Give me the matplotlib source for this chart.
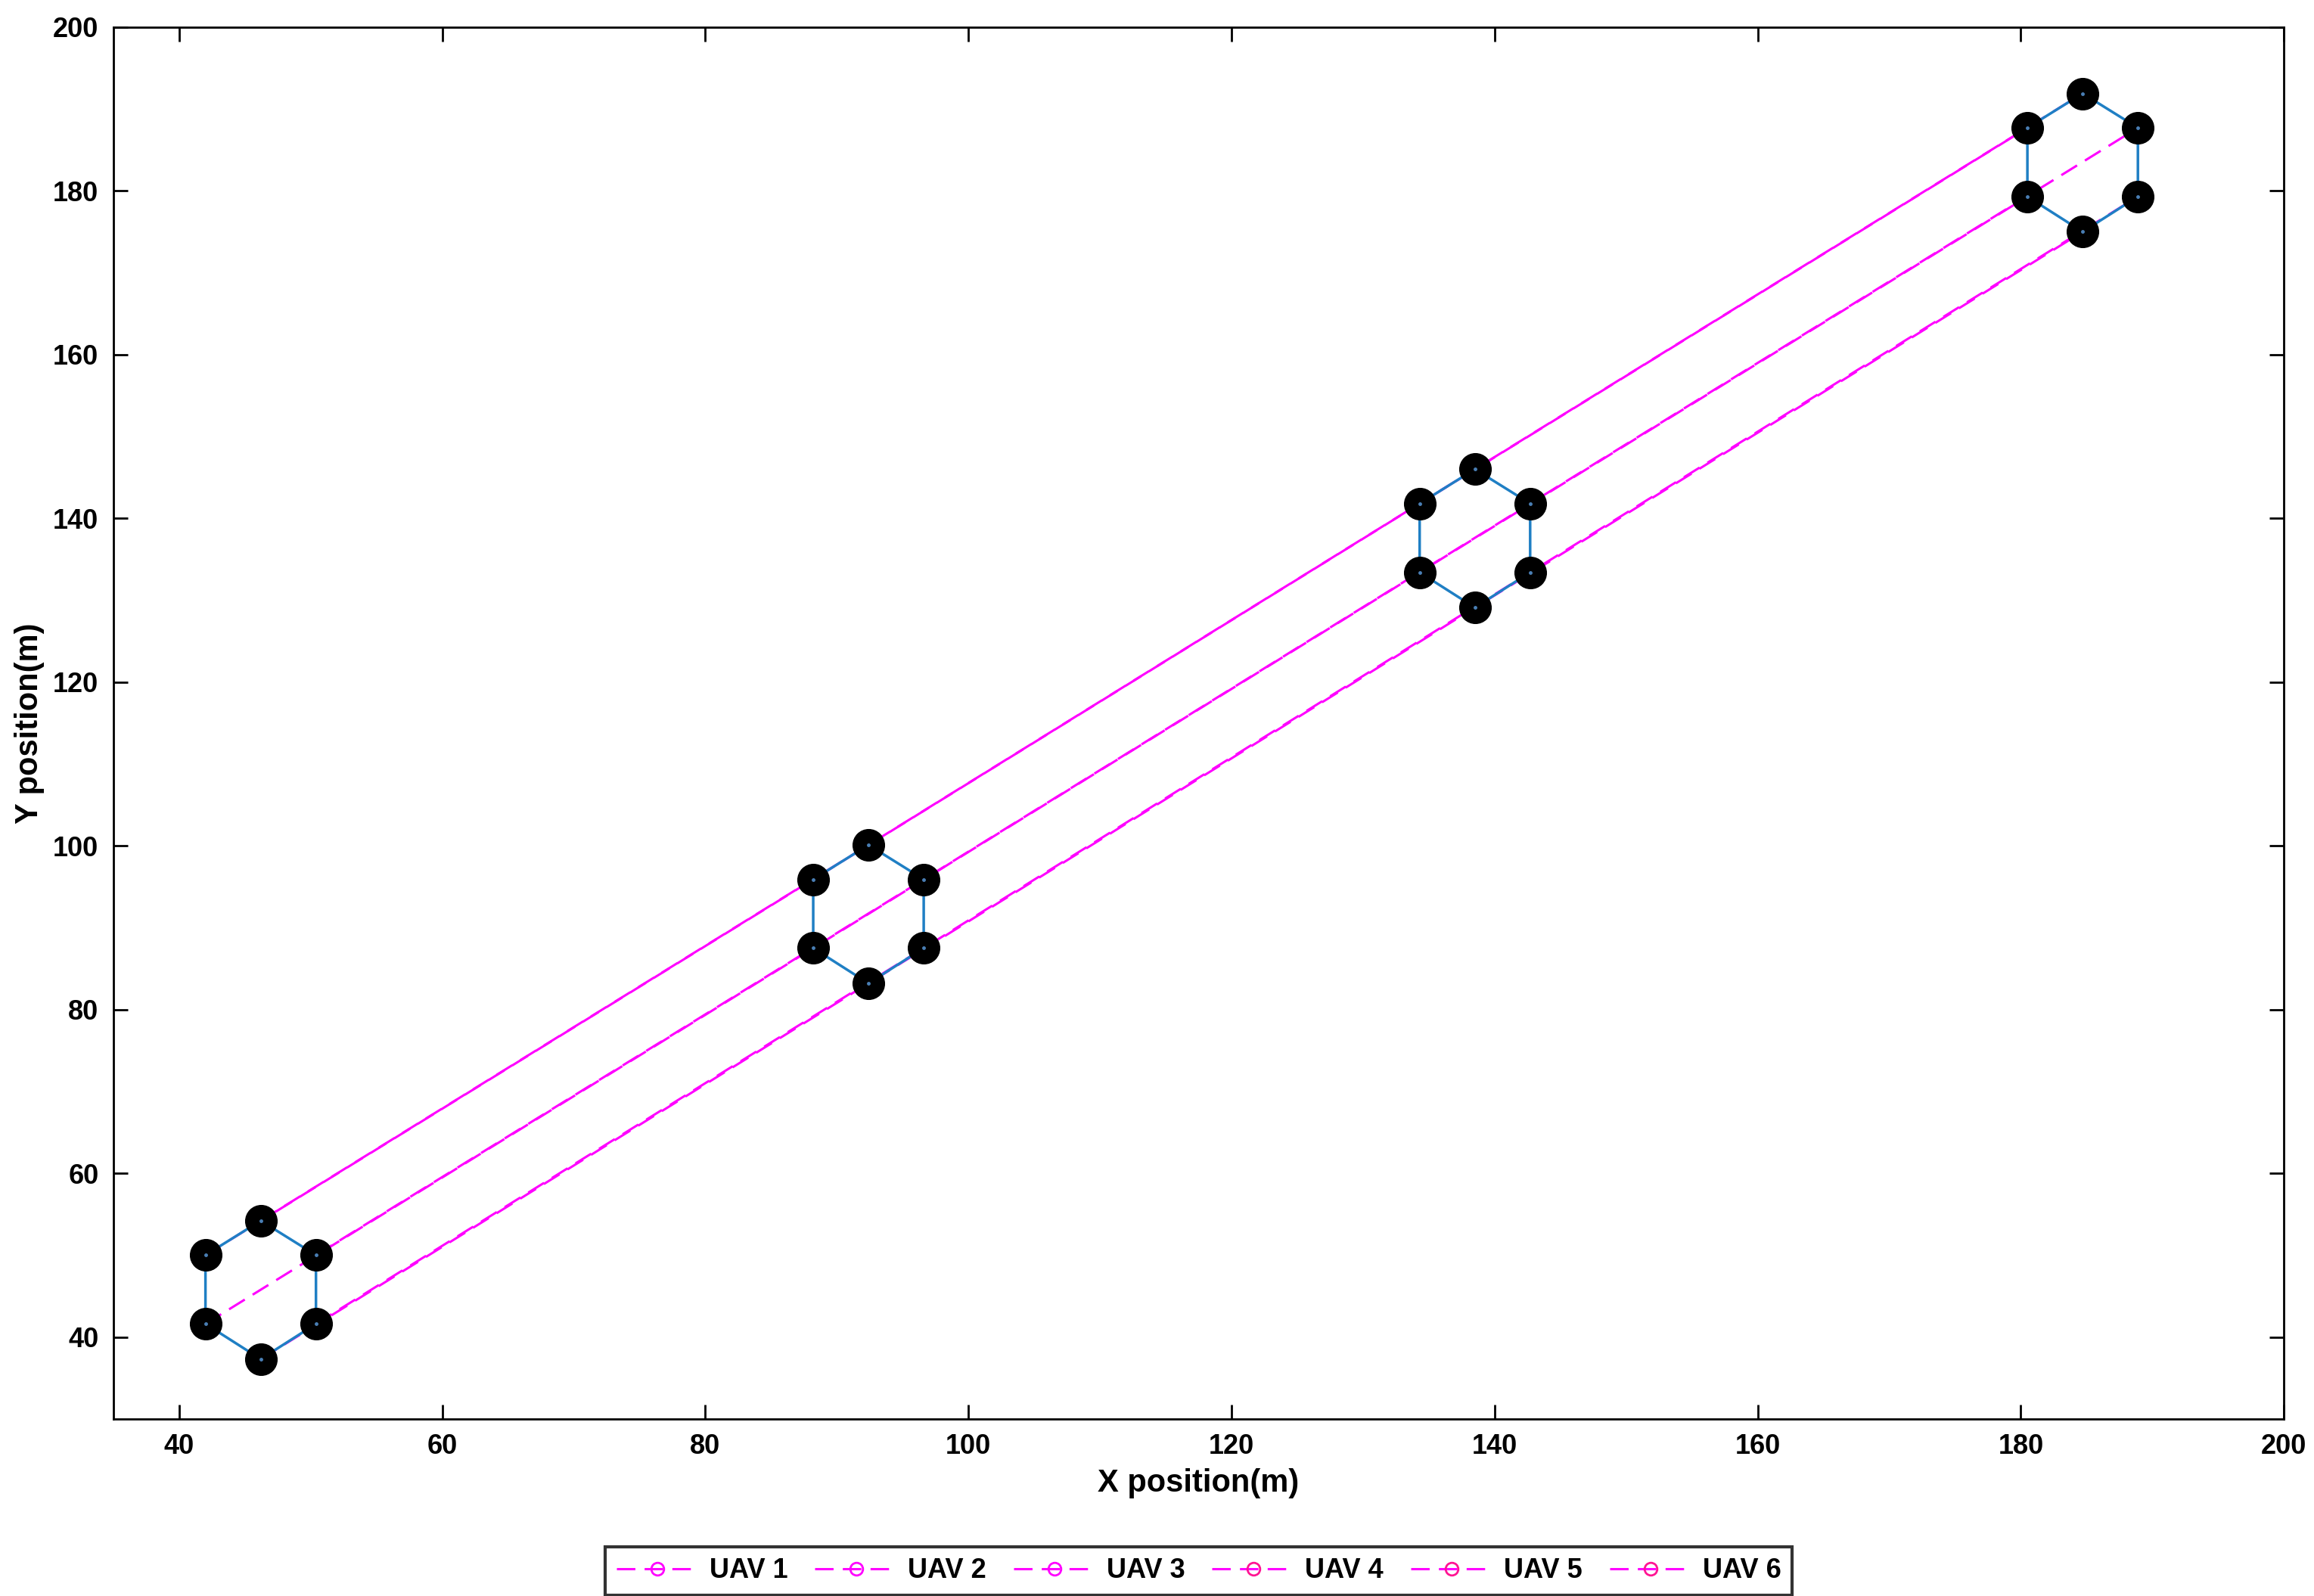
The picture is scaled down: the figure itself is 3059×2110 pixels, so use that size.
import matplotlib
matplotlib.use("Agg")
import matplotlib.pyplot as plt
import numpy as np

# formation positions for each UAV at four time instants
uav_x = {
    "UAV 1": [46.2, 92.4, 138.5, 184.7],
    "UAV 2": [50.4, 96.6, 142.7, 188.9],
    "UAV 3": [50.4, 96.6, 142.7, 188.9],
    "UAV 4": [46.2, 92.4, 138.5, 184.7],
    "UAV 5": [42.0, 88.2, 134.3, 180.5],
    "UAV 6": [42.0, 88.2, 134.3, 180.5],
}
uav_y = {
    "UAV 1": [54.2, 100.1, 146.0, 191.9],
    "UAV 2": [50.0, 95.9, 141.8, 187.7],
    "UAV 3": [41.6, 87.5, 133.4, 179.3],
    "UAV 4": [37.3, 83.2, 129.1, 175.0],
    "UAV 5": [41.6, 87.5, 133.4, 179.3],
    "UAV 6": [50.0, 95.9, 141.8, 187.7],
}
legend_colors = ["#FF00FF", "#FF00FF", "#FF00FF", "#FF1493", "#FF1493", "#FF1493"]
names = list(uav_x.keys())

plt.rcParams['font.family'] = ['Liberation Sans', 'DejaVu Sans']
fig = plt.figure(figsize=(30.59, 21.10), dpi=100)
ax = fig.add_axes([0.049, 0.111, 0.938, 0.872])

# trajectories
for n, c in zip(names, legend_colors):
    ax.plot(uav_x[n], uav_y[n], linestyle=(0, (8, 4)), color="#FF00FF", lw=2.2,
            marker='o', mfc='none', mec=c, ms=12, mew=2, label=n, zorder=2)

# formation hexagons
for k in range(4):
    hx = [uav_x[n][k] for n in names] + [uav_x[names[0]][k]]
    hy = [uav_y[n][k] for n in names] + [uav_y[names[0]][k]]
    ax.plot(hx, hy, color="#1f7fc4", lw=2.5, zorder=3)
    ax.plot(hx[:-1], hy[:-1], linestyle='none', marker='o', ms=30, mfc='black',
            mec='black', zorder=4)
    ax.plot(hx[:-1], hy[:-1], linestyle='none', marker='.', ms=5, color='#4a7fb5', zorder=5)

ax.set_xlim(35, 200)
ax.set_ylim(30, 200)
ax.set_xticks(np.arange(40, 201, 20))
ax.set_yticks(np.arange(40, 201, 20))
ax.tick_params(direction='in', length=14, width=2, top=True, right=True,
               labelsize=26, pad=14)
for lab in ax.get_xticklabels() + ax.get_yticklabels():
    lab.set_fontweight('bold')
for s in ax.spines.values():
    s.set_linewidth(2)
ax.set_xlabel("X position(m)", fontsize=30, fontweight='bold', labelpad=8)
ax.set_ylabel("Y position(m)", fontsize=30, fontweight='bold', labelpad=8)

leg = ax.legend(loc='upper center', bbox_to_anchor=(0.5, -0.082), ncol=6,
                fontsize=26, frameon=True, fancybox=False, edgecolor='black',
                handlelength=3.0, columnspacing=1.0, handletextpad=0.4,
                borderpad=0.4, prop={'size': 26, 'weight': 'bold'})
leg.get_frame().set_linewidth(3)

fig.savefig("out.png", dpi=100, facecolor='white')
